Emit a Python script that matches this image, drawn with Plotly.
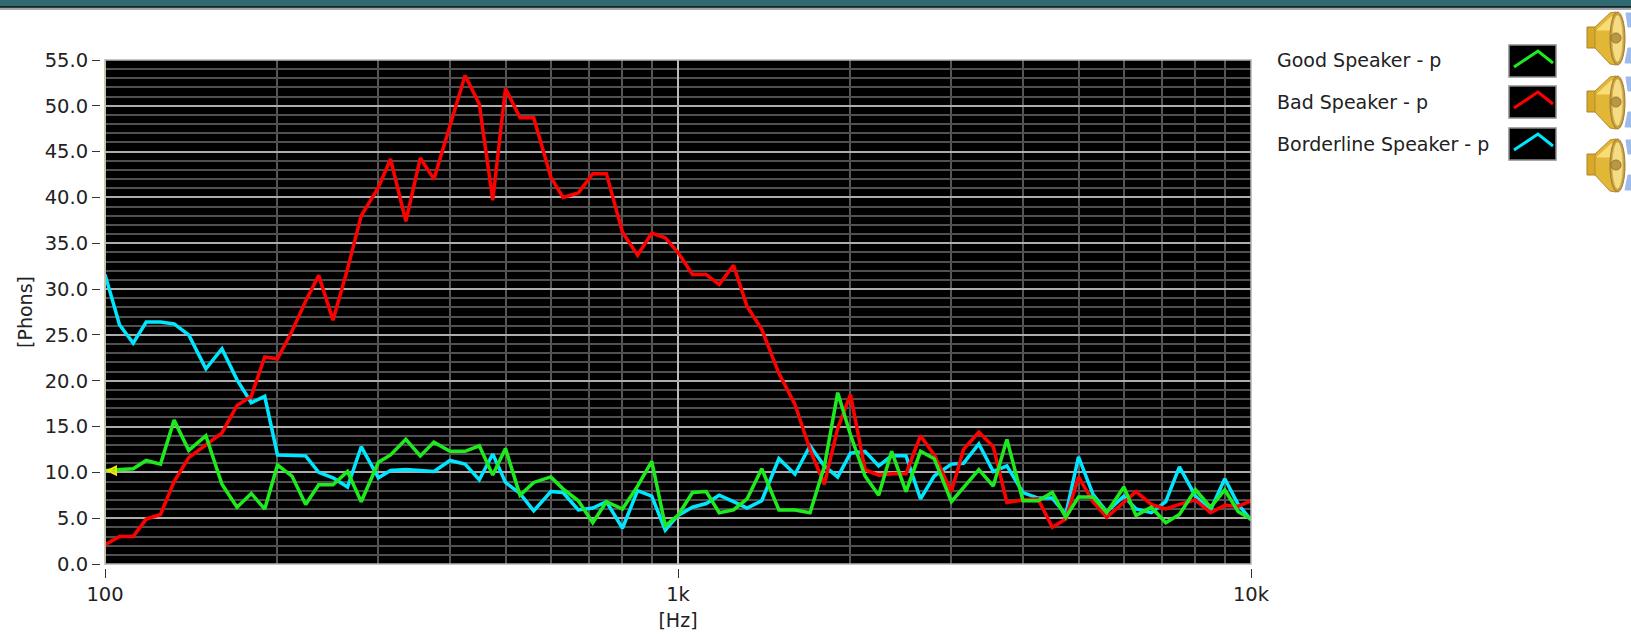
import plotly.graph_objects as go

W = 1631
H = 634

# R40 frequency bands
freq = [100, 106, 112, 118, 125, 132, 140, 150, 160, 170, 180, 190,
        200, 212, 224, 236, 250, 265, 280, 300, 315, 335, 355, 375,
        400, 425, 450, 475, 500, 530, 560, 600, 630, 670, 710, 750,
        800, 850, 900, 950, 1000, 1060, 1120, 1180, 1250, 1320, 1400, 1500,
        1600, 1700, 1800, 1900, 2000, 2120, 2240, 2360, 2500, 2650, 2800, 3000,
        3150, 3350, 3550, 3750, 4000, 4250, 4500, 4750, 5000, 5300, 5600, 6000,
        6300, 6700, 7100, 7500, 8000, 8500, 9000, 9500, 10000]

good = [10.2, 10.3, 10.4, 11.3, 10.9, 15.7, 12.4, 14.0, 8.7, 6.2, 7.7, 6.0,
        10.8, 9.6, 6.5, 8.65, 8.65, 10.1, 6.8, 11.1, 11.9, 13.6, 11.8, 13.3,
        12.3, 12.3, 12.9, 9.7, 12.6, 7.5, 8.9, 9.5, 8.2, 6.9, 4.5, 6.8,
        6.0, 8.5, 11.2, 4.2, 5.3, 7.8, 7.9, 5.6, 5.9, 7.1, 10.4, 5.9,
        5.9, 5.6, 10.6, 18.7, 14.1, 9.6, 7.5, 12.3, 7.9, 12.3, 11.5, 6.8,
        8.3, 10.3, 8.5, 13.6, 6.9, 6.9, 7.8, 5.1, 7.3, 7.3, 5.6, 8.4,
        5.3, 6.2, 4.5, 5.4, 8.1, 6.2, 8.1, 5.7, 4.9]

bad = [2.1, 3.0, 3.0, 4.9, 5.4, 9.0, 11.6, 13.0, 14.3, 17.3, 18.3, 22.6,
       22.4, 25.4, 28.7, 31.5, 26.6, 32.2, 38.0, 41.1, 44.2, 37.4, 44.3, 42.0,
       47.7, 53.3, 50.2, 39.7, 51.9, 48.7, 48.7, 42.2, 40.0, 40.5, 42.6, 42.6,
       36.2, 33.7, 36.1, 35.6, 34.0, 31.6, 31.6, 30.5, 32.6, 28.1, 25.6, 20.8,
       17.4, 12.5, 8.7, 14.8, 18.5, 10.3, 9.7, 9.85, 9.85, 14.0, 11.9, 7.9,
       12.5, 14.4, 12.8, 6.7, 7.0, 7.1, 4.0, 4.9, 9.5, 6.8, 5.1, 6.8,
       7.9, 6.5, 6.0, 6.5, 7.0, 5.6, 6.4, 6.3, 6.9]

border = [31.6, 26.1, 24.1, 26.4, 26.4, 26.2, 25.0, 21.3, 23.5, 20.1, 17.6, 18.3,
          11.9, 11.8, 11.8, 10.0, 9.4, 8.4, 12.8, 9.4, 10.2, 10.3, 10.2, 10.1,
          11.3, 10.9, 9.2, 12.0, 8.9, 7.7, 5.8, 7.9, 7.8, 5.9, 6.1, 6.8,
          3.9, 8.0, 7.4, 3.7, 5.3, 6.2, 6.6, 7.5, 6.8, 6.1, 6.9, 11.5,
          9.8, 12.9, 10.7, 9.5, 12.1, 12.3, 10.7, 11.8, 11.8, 7.1, 9.6, 10.9,
          11.0, 13.1, 10.1, 10.7, 7.8, 7.2, 7.2, 5.4, 11.7, 7.6, 5.7, 7.4,
          6.0, 5.6, 6.8, 10.6, 7.4, 5.9, 9.3, 6.5, 4.8]

x_ticks = [100, 1000, 10000]
x_labels = ["100", "1k", "10k"]
x_minor = [200, 300, 400, 500, 600, 700, 800, 900,
           2000, 3000, 4000, 5000, 6000, 7000, 8000, 9000]
legend_names = ["Good Speaker - p", "Bad Speaker - p", "Borderline Speaker - p"]

GREEN = "#1eeb1e"
RED = "#ff0000"
CYAN = "#00e6ff"
YELLOW = "#f5e600"
FONT = "DejaVu Sans"


def px(x, y):
    return x / W, 1 - y / H


def poly(points, fill, line=None):
    # closed path from page pixels, for the decorations outside the plot
    coords = [px(*p) for p in points]
    path = "M " + " L ".join(f"{a:.5f},{b:.5f}" for a, b in coords) + " Z"
    return dict(type="path", xref="paper", yref="paper", path=path, fillcolor=fill,
                line=dict(color=line or fill, width=1), layer="above")


def box(x0, y0, x1, y1, fill, line=None, width=1, kind="rect"):
    a, b = px(x0, y0)
    c, d = px(x1, y1)
    return dict(type=kind, xref="paper", yref="paper", x0=a, y0=b, x1=c, y1=d,
                fillcolor=fill, line=dict(color=line or fill, width=width), layer="above")


fig = go.Figure()
fig.add_trace(go.Scatter(x=freq, y=border, mode="lines", name=legend_names[2],
                         line=dict(color=CYAN, width=3.5)))
fig.add_trace(go.Scatter(x=freq, y=bad, mode="lines", name=legend_names[1],
                         line=dict(color=RED, width=3.5)))
fig.add_trace(go.Scatter(x=freq, y=good, mode="lines", name=legend_names[0],
                         line=dict(color=GREEN, width=3.5)))
# cursor
fig.add_trace(go.Scatter(x=[100, 100], y=[0, 55], mode="lines", cliponaxis=False,
                         line=dict(color=YELLOW, width=2), showlegend=False))
fig.add_trace(go.Scatter(x=[100, 104.5], y=[good[0], good[0]], mode="lines", cliponaxis=False,
                         line=dict(color="#c8f000", width=2), showlegend=False))
fig.add_trace(go.Scatter(x=[101.2], y=[good[0]], mode="markers", cliponaxis=False,
                         marker=dict(symbol="arrow-left-open", size=8, color=YELLOW,
                                     line=dict(color=YELLOW, width=2)),
                         showlegend=False))

shapes = [
    box(0, 0, W, 6.5, "#2f6a70"),
    box(0, 6.5, W, 8.3, "#10282c"),
    box(0, 8.3, W, 9.5, "#a8a8a8"),
    dict(type="rect", xref="x domain", yref="y domain", x0=0, y0=0, x1=1, y1=1,
         line=dict(color="#b4b4b4", width=1.5), layer="above"),
]
annotations = []

# legend: text on the left, swatch on the right
legend_text_y = [60, 102, 144]
legend_box_y = [45, 86, 128]
for name, color, ty, by in zip(legend_names, [GREEN, RED, CYAN], legend_text_y, legend_box_y):
    tx, tyy = px(1275, ty)
    annotations.append(dict(text=name, x=tx, y=tyy, xref="paper", yref="paper", showarrow=False,
                            xanchor="left", yanchor="middle",
                            font=dict(family=FONT, size=19, color="#222222")))
    shapes.append(box(1509, by, 1556, by + 32, "#000000", "#8c8c8c", 1.5))
    pts = [px(1514, by + 22), px(1538, by + 6), px(1553, by + 18)]
    path = "M " + " L ".join(f"{a:.5f},{b:.5f}" for a, b in pts)
    shapes.append(dict(type="path", xref="paper", yref="paper", path=path,
                       line=dict(color=color, width=3), layer="above"))

# speaker icons on the right edge
for oy in [10, 74, 137]:
    ox = 1585
    shapes.append(poly([(ox + 41, oy + 3), (ox + 46, oy + 3), (ox + 46, oy + 17), (ox + 43, oy + 17)], "#9dbcea"))
    shapes.append(poly([(ox + 43, oy + 38), (ox + 46, oy + 38), (ox + 46, oy + 53), (ox + 40, oy + 53)], "#9dbcea"))
    shapes.append(box(ox + 2, oy + 17, ox + 11, oy + 38, "#d8a828", "#a88428"))
    shapes.append(poly([(ox + 10, oy + 17), (ox + 25, oy + 3), (ox + 31, oy + 2), (ox + 31, oy + 55),
                        (ox + 25, oy + 54), (ox + 10, oy + 38)], "#e2b636", "#b08c34"))
    shapes.append(poly([(ox + 12, oy + 20), (ox + 26, oy + 7), (ox + 28, oy + 7), (ox + 28, oy + 20)], "#f7dc78"))
    shapes.append(box(ox + 25, oy + 2, ox + 40, oy + 55, "#c89c38", "#9c7c34", 1, "circle"))
    shapes.append(box(ox + 27, oy + 5, ox + 38, oy + 52, "#f4dc84", "#d8b050", 1, "circle"))
    shapes.append(box(ox + 26, oy + 23, ox + 36, oy + 33, "#bc9640", "#8f7a3c", 1, "circle"))

fig.update_layout(
    width=W,
    height=H,
    margin=dict(l=0, r=0, t=0, b=0),
    autosize=False,
    showlegend=False,
    paper_bgcolor="#ffffff",
    plot_bgcolor="#000000",
    font=dict(family=FONT, size=19.5, color="#222222"),
    shapes=shapes,
    annotations=annotations,
    xaxis=dict(
        type="log",
        range=[2, 4],
        domain=[105 / W, 1251 / W],
        anchor="free",
        position=1 - 568 / H,
        automargin=False,
        tickvals=x_ticks,
        ticktext=x_labels,
        ticks="outside",
        ticklen=9,
        tickcolor="#333333",
        showgrid=True,
        gridcolor="#bcbcbc",
        gridwidth=1.5,
        zeroline=False,
        showline=False,
        minor=dict(tickvals=x_minor, ticks="", showgrid=True, gridcolor="#555555", gridwidth=1.5),
        title=dict(text="[Hz]", font=dict(size=19), standoff=8),
    ),
    yaxis=dict(
        range=[0, 55],
        domain=[1 - 564 / H, 1 - 60 / H],
        anchor="free",
        position=100 / W,
        automargin=False,
        tick0=0,
        dtick=5,
        tickformat=".1f",
        ticks="outside",
        ticklen=8,
        tickcolor="#333333",
        showgrid=True,
        gridcolor="#adadad",
        gridwidth=1.5,
        zeroline=False,
        showline=False,
        minor=dict(dtick=1, ticks="", showgrid=True, gridcolor="#505050", gridwidth=1.5),
        title=dict(text="[Phons]", font=dict(size=19), standoff=6),
    ),
)

fig.write_html("out.html", config=dict(displayModeBar=False),
               post_script="document.body.style.margin='0';")
